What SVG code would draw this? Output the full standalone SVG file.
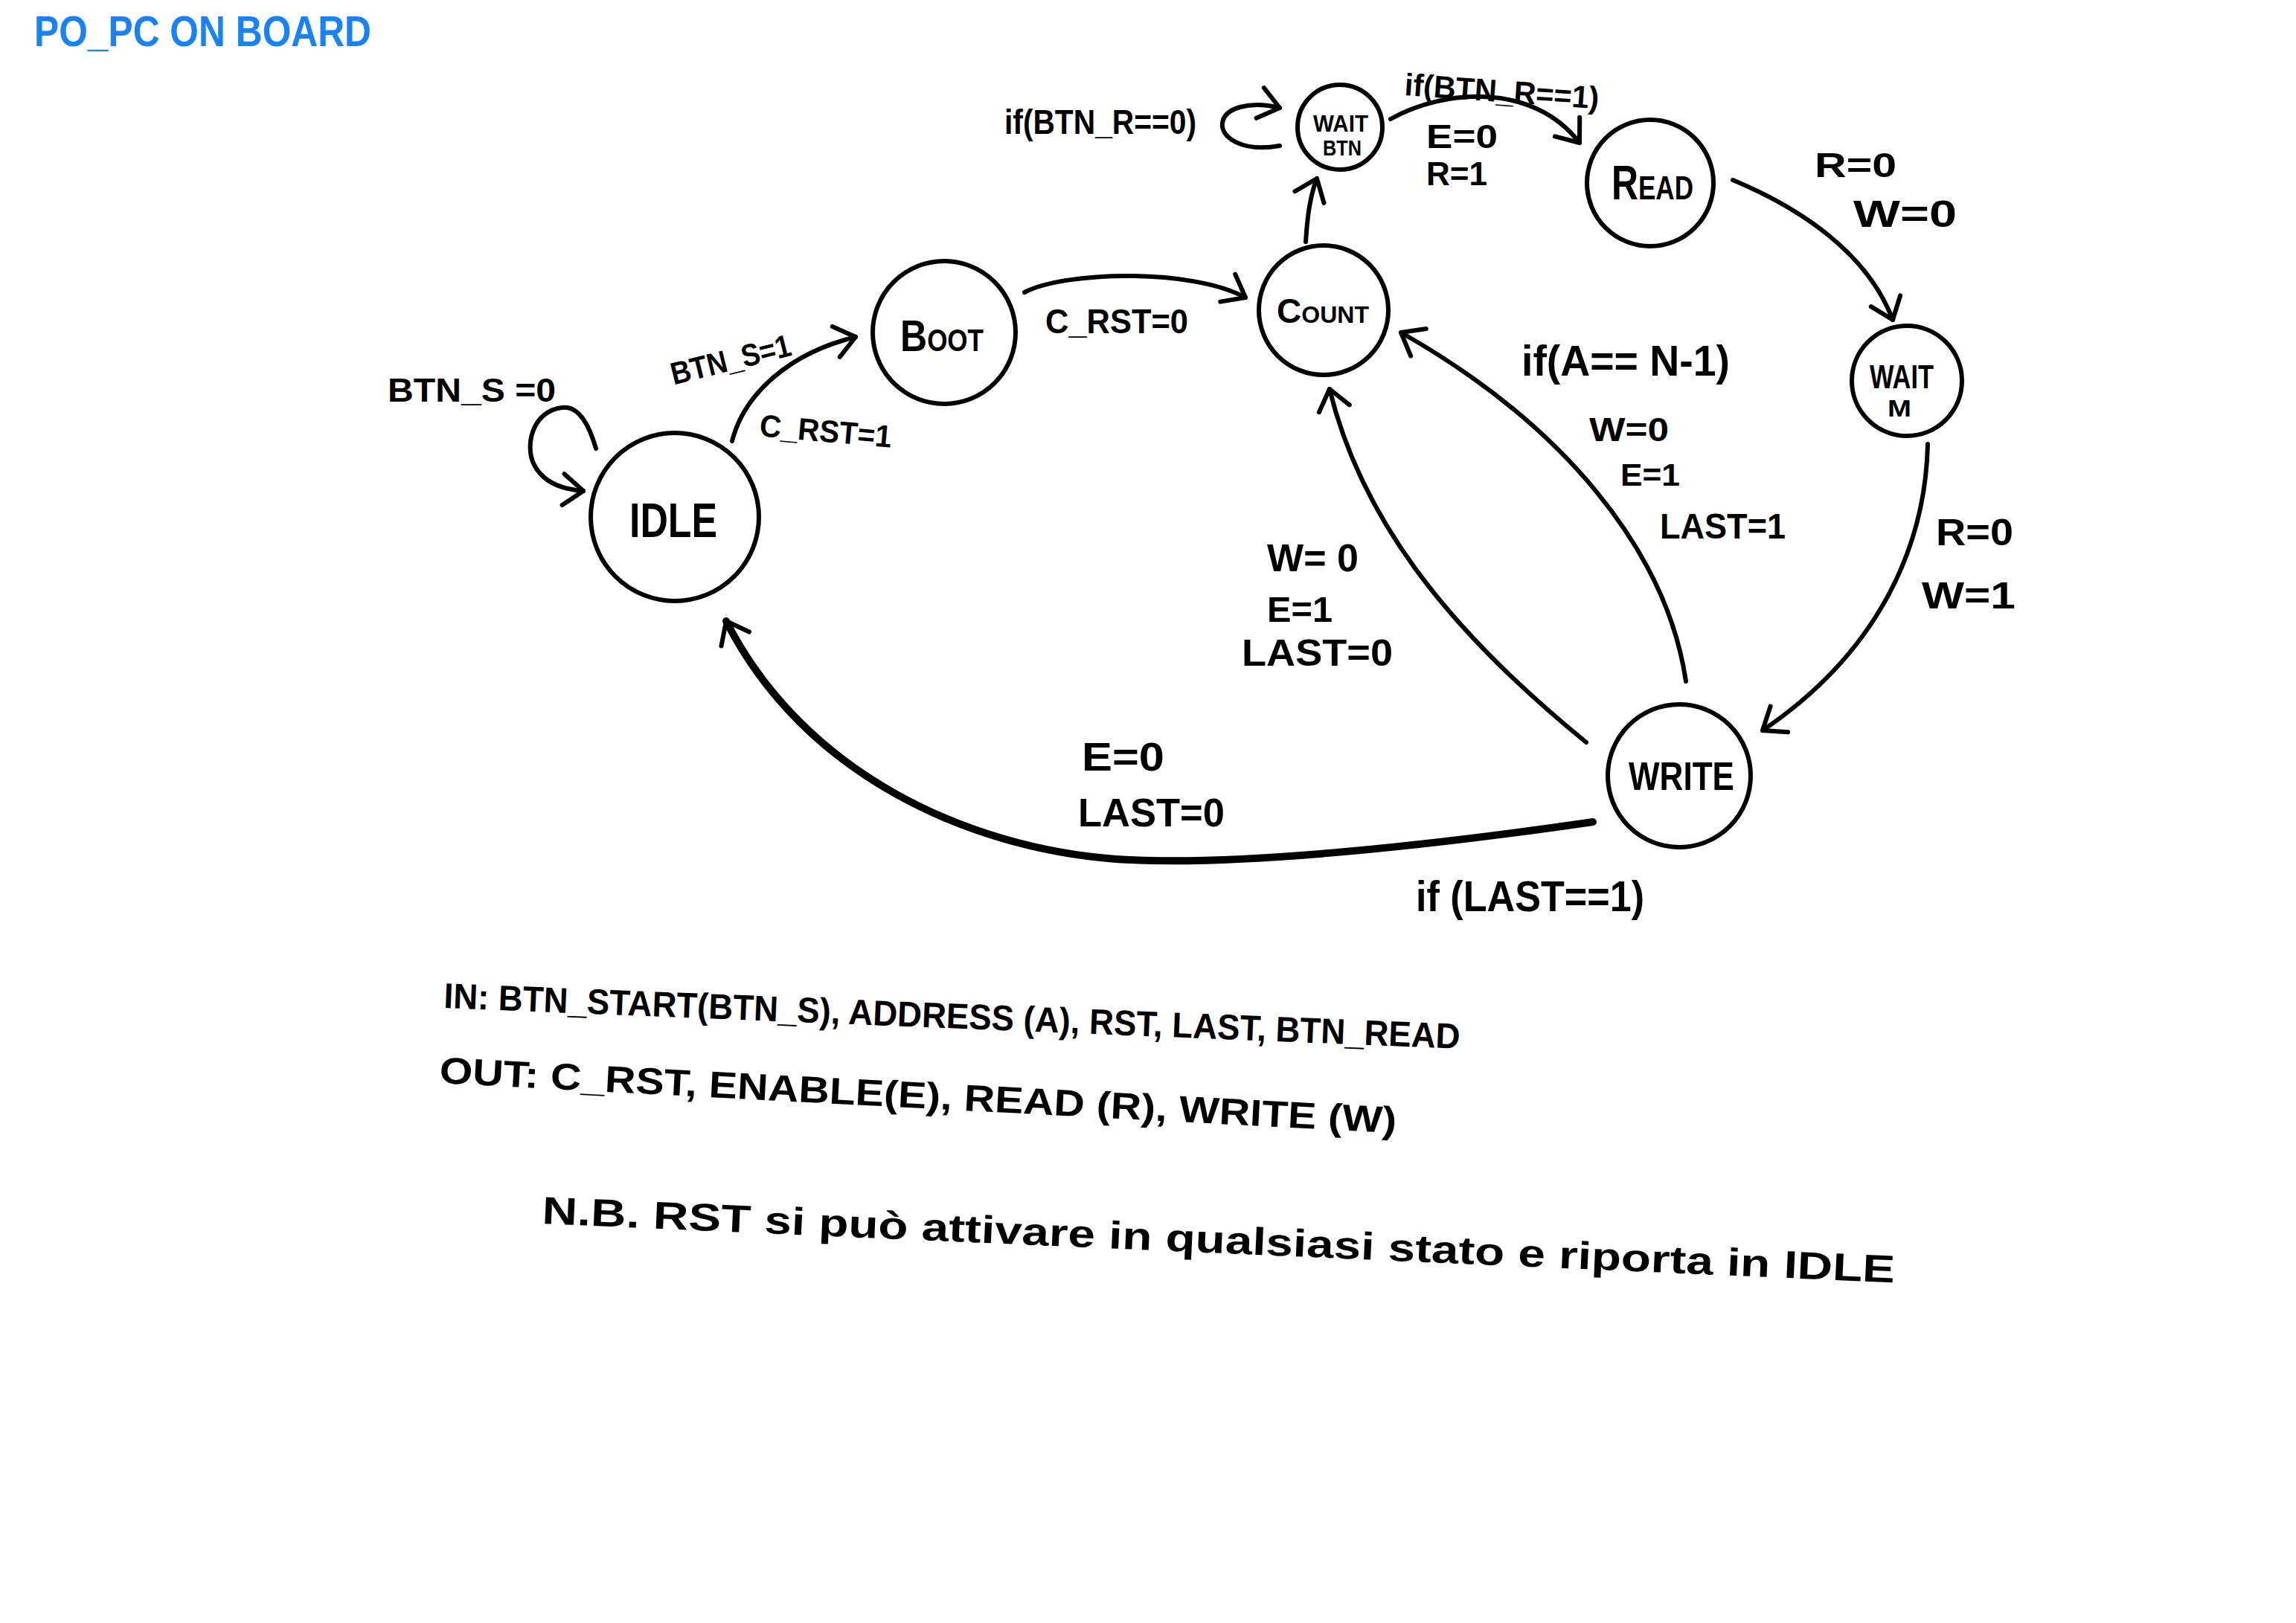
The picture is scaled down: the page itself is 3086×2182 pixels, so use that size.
<svg xmlns="http://www.w3.org/2000/svg" width="3086" height="2182" viewBox="0 0 3086 2182">
<defs>
<style>
.node{fill:none;stroke:#000;stroke-width:6}
.edge{fill:none;stroke:#000;stroke-width:6;stroke-linecap:round}
.thick{stroke-width:10}
text{font-family:"Liberation Sans","DejaVu Sans",sans-serif;font-weight:bold;fill:#000}
.nt{text-anchor:middle}
.title{fill:#1a82f7}
</style>
<marker id="arr" markerUnits="userSpaceOnUse" markerWidth="70" markerHeight="70" viewBox="-40 -35 50 70" refX="0" refY="0" orient="auto">
<path d="M -27 -21 L 0 0 L -27 21" fill="none" stroke="#000" stroke-width="6" stroke-linecap="round" stroke-linejoin="round"/>
</marker>
</defs>
<rect width="3086" height="2182" fill="#fff"/>

<text class="title" x="46" y="62" font-size="58" textLength="453" lengthAdjust="spacingAndGlyphs">PO_PC ON BOARD</text>

<g id="connectors">
<path class="edge" d="M 801 603 C 790 565 775 545 755 548 C 715 553 705 600 718 625 C 730 648 755 658 784 660" marker-end="url(#arr)"/>
<path class="edge" d="M 984 593 C 1000 530 1060 475 1150 453" marker-end="url(#arr)"/>
<path class="edge" d="M 1377 393 C 1430 365 1600 360 1674 400" marker-end="url(#arr)"/>
<path class="edge" d="M 1755 325 C 1757 295 1760 265 1770 240" marker-end="url(#arr)"/>
<path class="edge" d="M 1720 196 C 1670 205 1640 185 1643 165 C 1646 145 1680 135 1720 145" marker-end="url(#arr)"/>
<path class="edge" d="M 1869 160 C 1940 120 2060 110 2123 192" marker-end="url(#arr)"/>
<path class="edge" d="M 2329 242 C 2420 280 2510 340 2544 430" marker-end="url(#arr)"/>
<path class="edge" d="M 2591 597 C 2588 740 2520 880 2369 982" marker-end="url(#arr)"/>
<path class="edge" d="M 2266 916 C 2240 740 2100 570 1883 447" marker-end="url(#arr)"/>
<path class="edge" d="M 2132 998 C 1950 850 1830 700 1787 523" marker-end="url(#arr)"/>
<path class="edge thick" d="M 2141 1105 C 1900 1140 1650 1165 1500 1155 C 1300 1140 1080 1040 976 835" marker-end="url(#arr)"/>
</g>

<g id="edge-labels">
<text x="521" y="540" font-size="44" textLength="226" lengthAdjust="spacingAndGlyphs">BTN_S =0</text>
<text x="982" y="498" text-anchor="middle" font-size="42" textLength="165" lengthAdjust="spacingAndGlyphs" transform="rotate(-14 982 483)">BTN_S=1</text>
<text x="1110" y="594" text-anchor="middle" font-size="42" textLength="178" lengthAdjust="spacingAndGlyphs" transform="rotate(5 1110 578)">C_RST=1</text>
<text x="1405" y="448" font-size="46" textLength="192" lengthAdjust="spacingAndGlyphs">C_RST=0</text>
<text x="1350" y="180" font-size="46" textLength="258" lengthAdjust="spacingAndGlyphs">if(BTN_R==0)</text>
<text x="1887" y="128" font-size="42" textLength="262" lengthAdjust="spacingAndGlyphs" transform="rotate(4 1887 128)">if(BTN_R==1)</text>
<text x="1917" y="199" font-size="44" textLength="96" lengthAdjust="spacingAndGlyphs">E=0</text>
<text x="1917" y="249" font-size="44" textLength="82" lengthAdjust="spacingAndGlyphs">R=1</text>
<text x="2439" y="238" font-size="46" textLength="110" lengthAdjust="spacingAndGlyphs">R=0</text>
<text x="2491" y="305" font-size="50" textLength="139" lengthAdjust="spacingAndGlyphs">W=0</text>
<text x="2602" y="733" font-size="50" textLength="104" lengthAdjust="spacingAndGlyphs">R=0</text>
<text x="2583" y="818" font-size="50" textLength="126" lengthAdjust="spacingAndGlyphs">W=1</text>
<text x="2045" y="505" font-size="58" textLength="280" lengthAdjust="spacingAndGlyphs">if(A== N-1)</text>
<text x="2136" y="593" font-size="44" textLength="107" lengthAdjust="spacingAndGlyphs">W=0</text>
<text x="2178" y="653" font-size="42" textLength="80" lengthAdjust="spacingAndGlyphs">E=1</text>
<text x="2231" y="724" font-size="48" textLength="169" lengthAdjust="spacingAndGlyphs">LAST=1</text>
<text x="1703" y="768" font-size="52" textLength="123" lengthAdjust="spacingAndGlyphs">W= 0</text>
<text x="1703" y="836" font-size="48" textLength="88" lengthAdjust="spacingAndGlyphs">E=1</text>
<text x="1669" y="895" font-size="50" textLength="203" lengthAdjust="spacingAndGlyphs">LAST=0</text>
<text x="1454" y="1036" font-size="54" textLength="111" lengthAdjust="spacingAndGlyphs">E=0</text>
<text x="1449" y="1111" font-size="54" textLength="197" lengthAdjust="spacingAndGlyphs">LAST=0</text>
<text x="1903" y="1225" font-size="58" textLength="307" lengthAdjust="spacingAndGlyphs">if (LAST==1)</text>
</g>

<g id="node-idle">
<circle class="node" cx="907" cy="695" r="113"/>
<text class="nt" x="905" y="722" font-size="64" textLength="118" lengthAdjust="spacingAndGlyphs">IDLE</text>
</g>
<g id="node-boot">
<circle class="node" cx="1269" cy="447" r="96"/>
<text class="nt" x="1266" y="472" font-size="60" font-variant="small-caps" textLength="112" lengthAdjust="spacingAndGlyphs">Boot</text>
</g>
<g id="node-count">
<circle class="node" cx="1779" cy="417" r="87"/>
<text class="nt" x="1778" y="434" font-size="46" font-variant="small-caps" textLength="124" lengthAdjust="spacingAndGlyphs">Count</text>
</g>
<g id="node-waitbtn">
<circle class="node" cx="1801" cy="171" r="57"/>
<text class="nt" font-size="32"><tspan x="1802" y="177" textLength="74" lengthAdjust="spacingAndGlyphs">WAIT</tspan><tspan x="1804" y="209" font-size="30" textLength="52" lengthAdjust="spacingAndGlyphs">BTN</tspan></text>
</g>
<g id="node-read">
<circle class="node" cx="2218" cy="246" r="85"/>
<text class="nt" x="2221" y="268" font-size="64" font-variant="small-caps" textLength="110" lengthAdjust="spacingAndGlyphs">Read</text>
</g>
<g id="node-waitm">
<circle class="node" cx="2563" cy="512" r="74"/>
<text class="nt" font-size="44"><tspan x="2556" y="522" textLength="86" lengthAdjust="spacingAndGlyphs">WAIT</tspan><tspan x="2553" y="560" font-size="32" textLength="32" lengthAdjust="spacingAndGlyphs">M</tspan></text>
</g>
<g id="node-write">
<circle class="node" cx="2257" cy="1043" r="96"/>
<text class="nt" x="2260" y="1062" font-size="54" textLength="142" lengthAdjust="spacingAndGlyphs">WRITE</text>
</g>

<g id="notes">
<text x="596" y="1355" font-size="48" transform="rotate(2.3 596 1355)" textLength="1367" lengthAdjust="spacingAndGlyphs">IN: BTN_START(BTN_S), ADDRESS (A), RST, LAST, BTN_READ</text>
<text x="590" y="1456" font-size="50" transform="rotate(3 590 1456)" textLength="1288" lengthAdjust="spacingAndGlyphs">OUT:  C_RST, ENABLE(E), READ (R), WRITE (W)</text>
<text x="728" y="1645" font-size="52" transform="rotate(2.5 728 1645)" textLength="1820" lengthAdjust="spacingAndGlyphs">N.B. RST si può attivare in qualsiasi stato e riporta in IDLE</text>
</g>
</svg>
